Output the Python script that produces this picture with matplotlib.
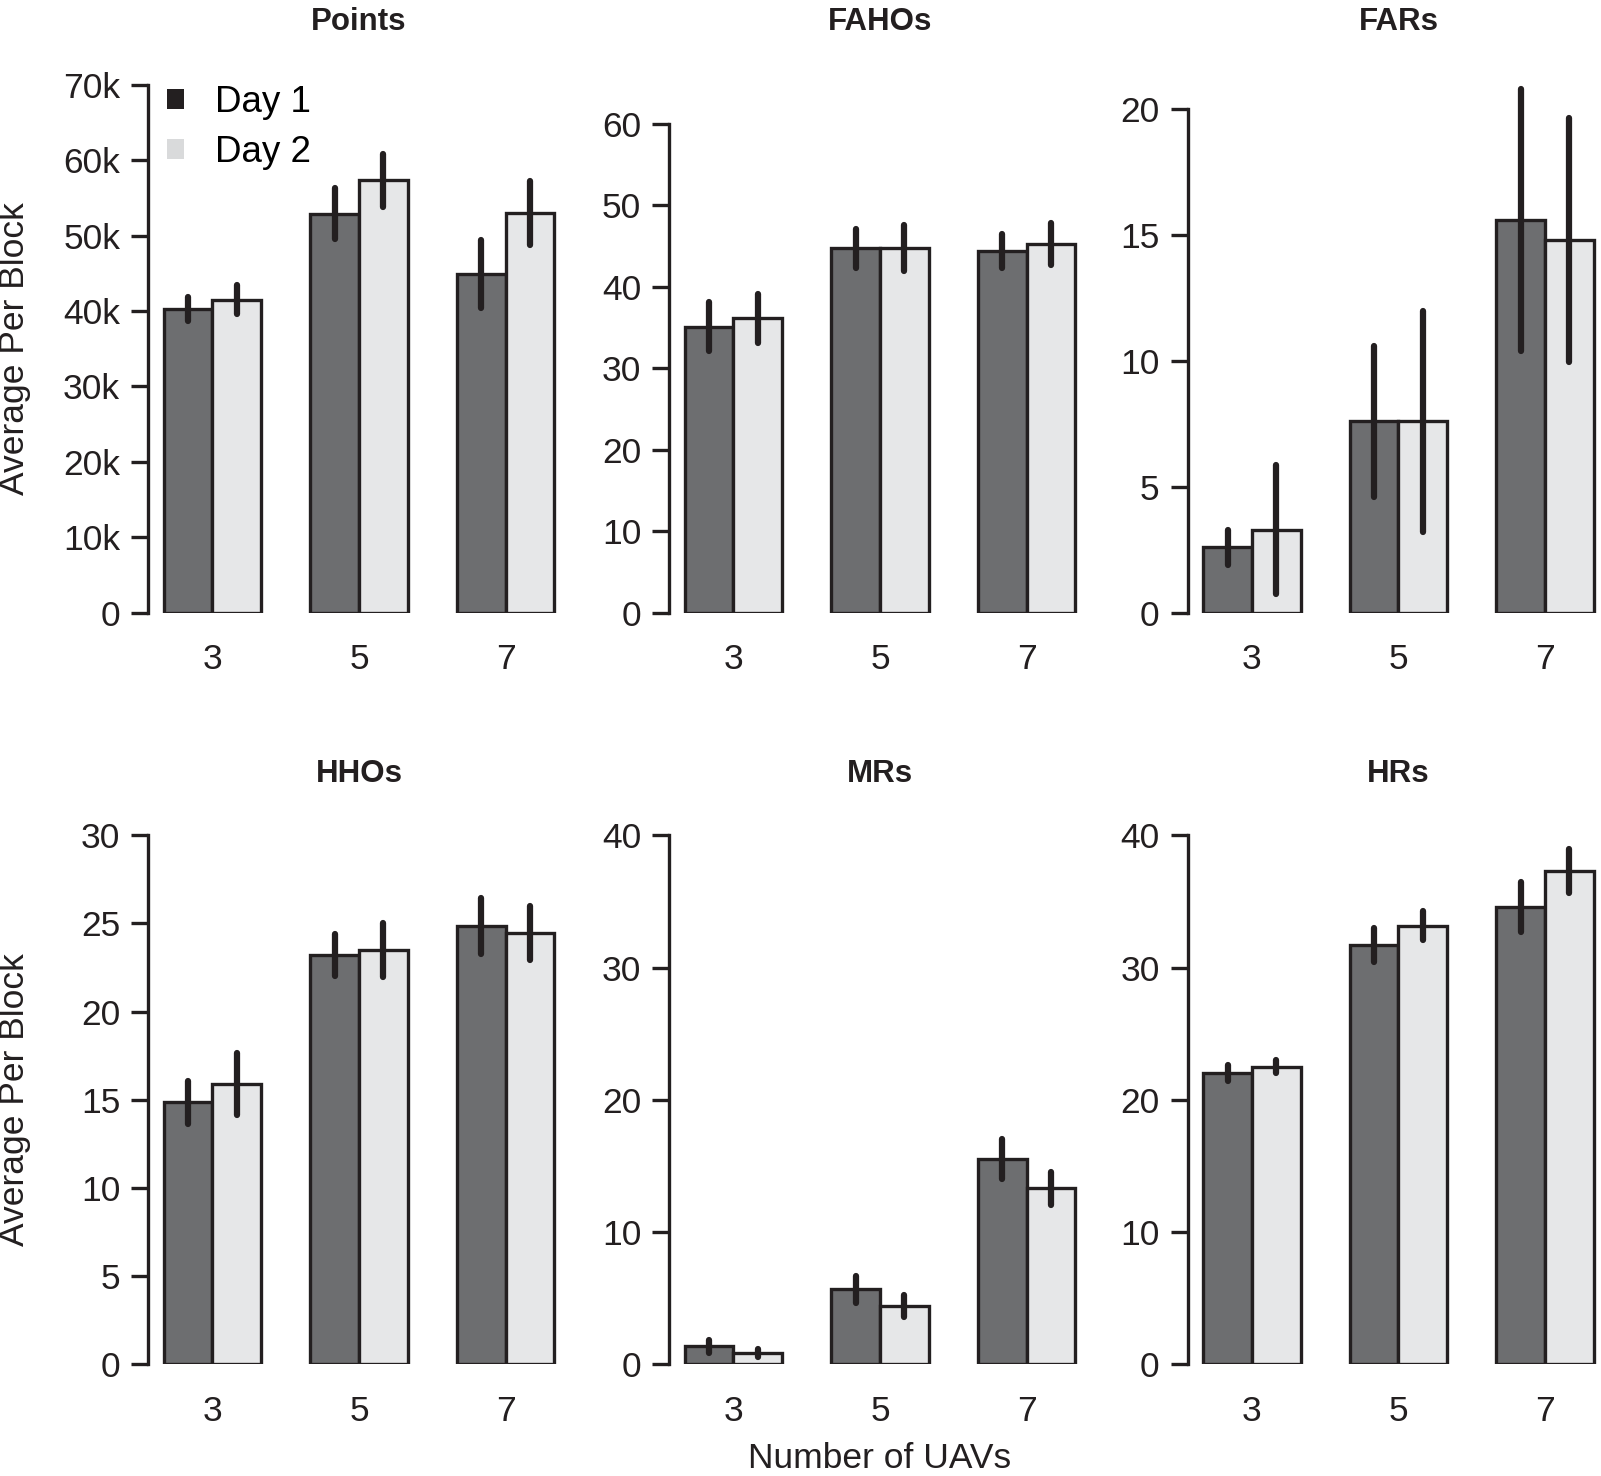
import matplotlib.pyplot as plt
import numpy as np
from matplotlib.patches import Patch

plt.rcParams['font.family'] = ['Liberation Sans', 'DejaVu Sans']

uavs = ['3', '5', '7']
titles = ['Points', 'FAHOs', 'FARs', 'HHOs', 'MRs', 'HRs']

# means and error half-widths (Day 1, Day 2)
points_d1 = [40300, 52900, 44900]
points_d1_err = [1600, 3400, 4500]
points_d2 = [41500, 57300, 53000]
points_d2_err = [1900, 3500, 4200]

fahos_d1 = [35.1, 44.7, 44.4]
fahos_d1_err = [3.0, 2.4, 2.1]
fahos_d2 = [36.1, 44.7, 45.2]
fahos_d2_err = [3.0, 2.8, 2.6]

fars_d1 = [2.6, 7.6, 15.6]
fars_d1_err = [0.7, 3.0, 5.2]
fars_d2 = [3.3, 7.6, 14.8]
fars_d2_err = [2.55, 4.4, 4.85]

hhos_d1 = [14.85, 23.2, 24.85]
hhos_d1_err = [1.2, 1.2, 1.6]
hhos_d2 = [15.9, 23.5, 24.45]
hhos_d2_err = [1.75, 1.55, 1.55]

mrs_d1 = [1.35, 5.65, 15.5]
mrs_d1_err = [0.5, 1.0, 1.5]
mrs_d2 = [0.85, 4.4, 13.3]
mrs_d2_err = [0.3, 0.8, 1.25]

hrs_d1 = [22.0, 31.7, 34.55]
hrs_d1_err = [0.6, 1.3, 1.9]
hrs_d2 = [22.5, 33.15, 37.3]
hrs_d2_err = [0.5, 1.1, 1.65]

panels = [
    (points_d1, points_d1_err, points_d2, points_d2_err, np.arange(0, 70001, 10000)),
    (fahos_d1, fahos_d1_err, fahos_d2, fahos_d2_err, np.arange(0, 61, 10)),
    (fars_d1, fars_d1_err, fars_d2, fars_d2_err, np.arange(0, 21, 5)),
    (hhos_d1, hhos_d1_err, hhos_d2, hhos_d2_err, np.arange(0, 31, 5)),
    (mrs_d1, mrs_d1_err, mrs_d2, mrs_d2_err, np.arange(0, 41, 10)),
    (hrs_d1, hrs_d1_err, hrs_d2, hrs_d2_err, np.arange(0, 41, 10)),
]

c_day1 = '#6d6e70'
c_day2 = '#e6e7e8'
c_edge = '#231f20'
fs = 25.5

W, H = 1601, 1476
fig = plt.figure(figsize=(W / 100, H / 100), dpi=100)

# layout in pixels
axis_x = [148, 669, 1187.5]
zero_y = [612.7, 1364.2]
top_y = [84.7, 123.6, 109.3, 835.3, 835.3, 835.3]
title_y = [22, 774]
unit = 48.84
xmin, xmax = 0.68, 9.32

centers = np.arange(len(uavs)) * 3 + 2

axes = []
for i, (d1, e1, d2, e2, ticks) in enumerate(panels):
    row, col = divmod(i, 3)
    w = (xmax - xmin) * unit
    h = zero_y[row] - top_y[i]
    ax = fig.add_axes([axis_x[col] / W, 1 - zero_y[row] / H, w / W, h / H])
    axes.append(ax)

    ax.bar(centers - 0.5, d1, width=1, color=c_day1, edgecolor=c_edge, linewidth=2.4, zorder=2)
    ax.bar(centers + 0.5, d2, width=1, color=c_day2, edgecolor=c_edge, linewidth=2.4, zorder=2)
    for xs, ys, es in [(centers - 0.5, d1, e1), (centers + 0.5, d2, e2)]:
        eb = ax.errorbar(xs, ys, yerr=es, fmt='none', ecolor=c_edge, elinewidth=4.5, capsize=0, zorder=3)
        for lc in eb.lines[2]:
            lc.set_clip_on(False)
            lc.set_capstyle('round')

    ax.set_xlim(xmin, xmax)
    ax.set_ylim(0, ticks[-1])
    ax.set_yticks(ticks)
    if i == 0:
        ax.set_yticklabels(['0'] + ['%dk' % (t // 1000) for t in ticks[1:]])
    else:
        ax.set_yticklabels(['%d' % t for t in ticks])
    ax.set_xticks(centers)
    ax.set_xticklabels(uavs)

    for s in ['top', 'right', 'bottom']:
        ax.spines[s].set_visible(False)
    ax.spines['left'].set_linewidth(2.4)
    ax.spines['left'].set_color(c_edge)
    ax.tick_params(axis='y', length=12, width=2.4, color=c_edge, pad=8, labelsize=fs, labelcolor=c_edge)
    ax.tick_params(axis='x', length=0, pad=22, labelsize=fs, labelcolor=c_edge)

    fig.text((axis_x[col] + w / 2) / W, 1 - title_y[row] / H, titles[i],
             ha='center', va='center', fontsize=22.5, fontweight='bold', color=c_edge)

for row in range(2):
    mid = (zero_y[row] + top_y[row * 3]) / 2
    fig.text(15 / W, 1 - mid / H, 'Average Per Block', rotation=90,
             ha='center', va='center', fontsize=fs, color=c_edge)

fig.text((axis_x[1] + (xmax - xmin) * unit / 2) / W, 1 - 1459 / H, 'Number of UAVs',
         ha='center', va='center', fontsize=fs, color=c_edge)

handles = [Patch(facecolor=c_edge, edgecolor='none'), Patch(facecolor='#d9dadb', edgecolor='none')]
axes[0].legend(handles, ['Day 1', 'Day 2'], loc='upper left', bbox_to_anchor=(0.045, 1.0),
               frameon=False, fontsize=26.5, handlelength=0.46, handleheight=0.46,
               handletextpad=0.85, labelspacing=0.42, borderpad=0, borderaxespad=0)

fig.savefig('out.png', dpi=100)
